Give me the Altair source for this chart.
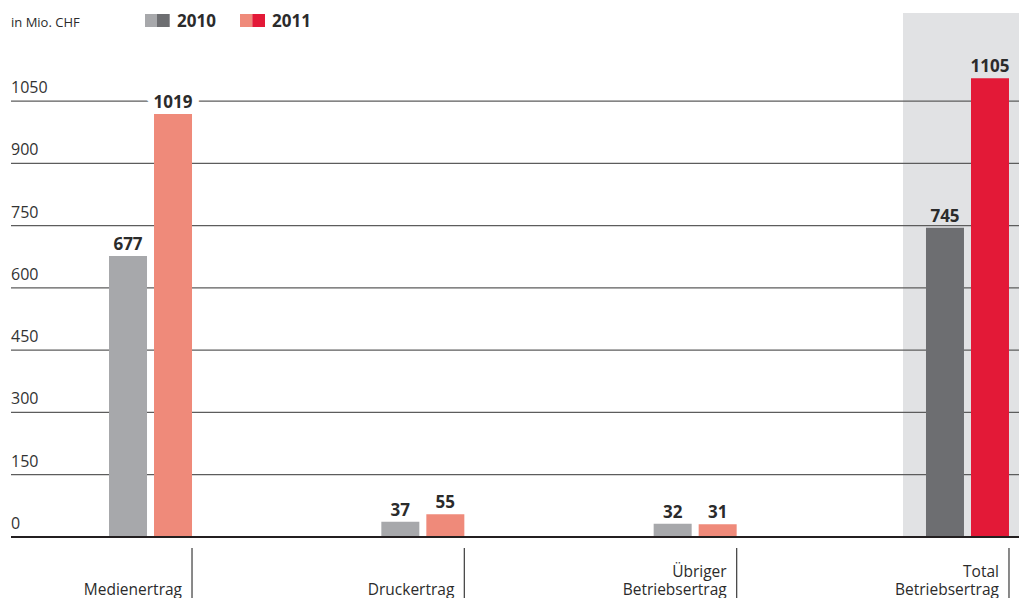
import altair as alt
import pandas as pd

# ---- data ----
cat_keys = ["Medienertrag", "Druckertrag", "Übriger", "Total"]
cat_labels = ["Medienertrag", "Druckertrag", "Übriger\nBetriebsertrag", "Total\nBetriebsertrag"]
years = ["2010", "2011"]
values_2010 = [677, 37, 32, 745]
values_2011 = [1019, 55, 31, 1105]
y_ticks = [0, 150, 300, 450, 600, 750, 900, 1050]
unit_label = "in Mio. CHF"
highlight_cat = ["Total"]

FONT = "Open Sans"
TXT = "#2b2b2b"
W, H = 1008, 524

rows = []
for k, v10, v11 in zip(cat_keys, values_2010, values_2011):
    for yr, v in ((years[0], v10), (years[1], v11)):
        tone = ("total" if k in highlight_cat else "part") + yr
        rows.append({"cat": k, "year": yr, "value": v, "tone": tone,
                     "halo": k not in highlight_cat})
df = pd.DataFrame(rows)
cats_df = pd.DataFrame({
    "cat": cat_keys,
    "last": [l.split("\n")[-1] for l in cat_labels],
    "first": [l.split("\n")[0] if "\n" in l else "" for l in cat_labels],
})

xscale = alt.Scale(domain=cat_keys, range=[0, 1096], paddingInner=0.6952, paddingOuter=0.3599)
xoff = alt.Scale(domain=years, paddingInner=0.1556, paddingOuter=0)
yscale = alt.Scale(domain=[0, 1262], nice=False, zero=True)
color_scale = alt.Scale(domain=["part2010", "part2011", "total2010", "total2011"],
                        range=["#a7a8ab", "#ef8a7a", "#6d6e71", "#e31937"])

X = alt.X("cat:N", scale=xscale, axis=None)
XO = alt.XOffset("year:N", scale=xoff)
Y = alt.Y("value:Q", scale=yscale, axis=None)

base = alt.Chart(df)

bg = alt.Chart(pd.DataFrame({"cat": highlight_cat})).mark_bar(
    color="#e1e2e4", width=alt.RelativeBandSize(1.554)
).encode(x=X, y=alt.value(0), y2=alt.value(H))

grid = alt.Chart(pd.DataFrame({"v": y_ticks[1:]})).mark_rule(
    color="#5c5c5c", strokeWidth=1.2
).encode(y=alt.Y("v:Q", scale=yscale, axis=None), x=alt.value(0), x2=alt.value(W))

ylabels = alt.Chart(pd.DataFrame({"v": y_ticks})).mark_text(
    align="left", baseline="alphabetic", dy=-8, font=FONT, fontSize=16, color="#333333"
).encode(y=alt.Y("v:Q", scale=yscale, axis=None), x=alt.value(0), text=alt.Text("v:Q"))

halo = base.transform_filter("datum.halo").mark_text(
    font=FONT, fontSize=17, fontWeight="bold", baseline="alphabetic", dy=-6,
    fill="white", stroke="white", strokeWidth=14
).encode(x=X, xOffset=XO, y=Y, text=alt.Text("value:Q"))

bars = base.mark_bar().encode(
    x=X, xOffset=XO, y=Y,
    color=alt.Color("tone:N", scale=color_scale, legend=None)
)

values = base.mark_text(
    font=FONT, fontSize=17, fontWeight="bold", baseline="alphabetic", dy=-6, color=TXT
).encode(x=X, xOffset=XO, y=Y, text=alt.Text("value:Q"))

baseline = alt.Chart(pd.DataFrame({"v": [0]})).mark_rule(
    color="#231f20", strokeWidth=2
).encode(y=alt.Y("v:Q", scale=yscale, axis=None), x=alt.value(0), x2=alt.value(W))

XR = alt.X("cat:N", scale=xscale, axis=None, bandPosition=1)
seps = alt.Chart(cats_df).mark_rule(color="#4a4a4a", strokeWidth=1.3).encode(
    x=XR, y=alt.value(H + 11), y2=alt.value(H + 70)
)
cat_last = alt.Chart(cats_df).mark_text(
    align="right", baseline="bottom", dx=-10, font=FONT, fontSize=15.5, color=TXT
).encode(x=XR, y=alt.value(H + 61), text="last:N")
cat_first = alt.Chart(cats_df).mark_text(
    align="right", baseline="bottom", dx=-10, font=FONT, fontSize=15.5, color=TXT
).encode(x=XR, y=alt.value(H + 43), text="first:N")

one = pd.DataFrame({"a": [0]})
def sq(x0, x1, col):
    return alt.Chart(one).mark_rect(color=col).encode(
        x=alt.value(x0), x2=alt.value(x1), y=alt.value(1), y2=alt.value(14))

def txt(x0, s, size, weight="normal"):
    return alt.Chart(one).mark_text(
        align="left", baseline="alphabetic", font=FONT, fontSize=size,
        fontWeight=weight, color=TXT
    ).encode(x=alt.value(x0), y=alt.value(13.7), text=alt.value(s))

legend = (
    txt(0, unit_label, 13)
    + sq(134, 146, "#a7a8ab") + sq(146, 158.7, "#6d6e71") + txt(166, years[0], 17, "bold")
    + sq(229, 241.3, "#ef8a7a") + sq(241.3, 254, "#e31937") + txt(261, years[1], 17, "bold")
)

chart = (
    bg + grid + ylabels + halo + bars + values + baseline + seps + cat_last + cat_first + legend
).properties(
    width=W, height=H,
    autosize=alt.AutoSizeParams(type="none"),
    padding={"left": 11, "top": 13, "right": 0, "bottom": 61},
).configure_view(stroke=None)

chart.save("out.html", embed_options={"renderer": "svg", "actions": False})
